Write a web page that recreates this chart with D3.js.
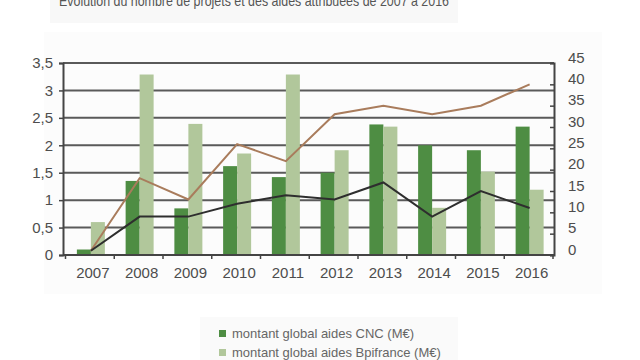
<!DOCTYPE html>
<html>
<head>
<meta charset="utf-8">
<script src="https://cdn.jsdelivr.net/npm/d3@7"></script>
<style>
  html, body { margin: 0; padding: 0; background: #fff; }
  svg { display: block; font-family: "Liberation Sans", Arial, sans-serif; }
</style>
</head>
<body>
<svg id="chart" width="640" height="360"></svg>
<script>
const title = "Evolution du nombre de projets et des aides attribuées de 2007 à 2016";
const years = ["2007","2008","2009","2010","2011","2012","2013","2014","2015","2016"];
const aidesCNC = [0.10, 1.35, 0.85, 1.62, 1.42, 1.50, 2.38, 2.00, 1.91, 2.34];
const aidesBpi = [0.60, 3.29, 2.39, 1.85, 3.29, 1.91, 2.34, 0.86, 1.52, 1.19];
const lineBrown = [1, 18, 13, 26, 22, 33, 35, 33, 35, 40];
const lineBlack = [1, 9, 9, 12, 14, 13, 17, 9, 15, 11];
const leftTicks = [0, 0.5, 1, 1.5, 2, 2.5, 3, 3.5];
const rightTicks = [0, 5, 10, 15, 20, 25, 30, 35, 40, 45];
const legendLabels = ["montant global aides CNC (M€)", "montant global aides Bpifrance (M€)"];

const colDark = "#4e8d43", colLight = "#b1c79b", colBrown = "#a97c5c", colBlack = "#2e2e2e";
const svg = d3.select("#chart");

// faint panels
svg.append("rect").attr("x", 50).attr("y", -2).attr("width", 408).attr("height", 25).attr("fill", "#f8f8f8");
svg.append("rect").attr("x", 44).attr("y", 32).attr("width", 558).attr("height", 262).attr("fill", "#fcfcfc");
svg.append("rect").attr("x", 200).attr("y", 317).attr("width", 258).attr("height", 45).attr("fill", "#fafafa");

// title (clipped at top)
svg.append("text").attr("x", 254).attr("y", 6).attr("text-anchor", "middle")
  .attr("font-size", 15).attr("fill", "#555")
  .attr("textLength", 390).attr("lengthAdjust", "spacingAndGlyphs")
  .text(title);

const x = d3.scaleBand().domain(years).range([65.5, 553]).padding(0);
const y = d3.scaleLinear().domain([0, 3.5]).range([255, 63]);
const y2 = d3.scaleLinear().domain([0, 45]).range([255, 63]);

// gridlines
svg.append("g").selectAll("line").data(leftTicks.slice(1)).join("line")
  .attr("x1", 63).attr("x2", 554).attr("y1", d => y(d)).attr("y2", d => y(d))
  .attr("stroke", "#5a5a5a").attr("stroke-width", 2);

// bars
const bw = 14;
const cx = d => x(d) + x.bandwidth() / 2 + 1;
svg.append("g").selectAll("rect").data(years).join("rect")
  .attr("x", d => cx(d) - bw).attr("width", bw)
  .attr("y", (d, i) => y(aidesCNC[i])).attr("height", (d, i) => y(0) - y(aidesCNC[i]))
  .attr("fill", colDark);
svg.append("g").selectAll("rect").data(years).join("rect")
  .attr("x", d => cx(d)).attr("width", bw)
  .attr("y", (d, i) => y(aidesBpi[i])).attr("height", (d, i) => y(0) - y(aidesBpi[i]))
  .attr("fill", colLight);

// lines
const line = d3.line().x(d => cx(d.year)).y(d => y2(d.v));
svg.append("path").datum(years.map((yr, i) => ({year: yr, v: lineBrown[i]})))
  .attr("d", line).attr("fill", "none").attr("stroke", colBrown).attr("stroke-width", 2);
svg.append("path").datum(years.map((yr, i) => ({year: yr, v: lineBlack[i]})))
  .attr("d", line).attr("fill", "none").attr("stroke", colBlack).attr("stroke-width", 2);

// left axis
const gl = svg.append("g").attr("transform", "translate(63,0)")
  .call(d3.axisLeft(y).tickValues(leftTicks).tickSize(4).tickPadding(6)
    .tickFormat(d => d3.format("")(d).replace(".", ",")));
// right axis
const gr = svg.append("g").attr("transform", "translate(554,0)")
  .call(d3.axisRight(y2).tickValues(rightTicks).tickSize(-4).tickPadding(14));
gr.selectAll("text").attr("dy", "-0.05em");
// bottom axis
const gb = svg.append("g").attr("transform", "translate(0,255)")
  .call(d3.axisBottom(x).tickSize(0).tickPadding(12));
gb.selectAll(".tick text").attr("dx", 3);
svg.append("g").selectAll("line").data(years.concat(["end"])).join("line")
  .attr("x1", (d, i) => i < years.length ? x(d) : x.range()[1])
  .attr("x2", (d, i) => i < years.length ? x(d) : x.range()[1])
  .attr("y1", 255).attr("y2", 259).attr("stroke", "#444").attr("stroke-width", 1.5);

[gl, gr, gb].forEach(g => {
  g.selectAll(".domain").attr("stroke", "#444").attr("stroke-width", 2);
  g.selectAll(".tick line").attr("stroke", "#444").attr("stroke-width", 1.5);
  g.selectAll("text").attr("font-size", 15).attr("fill", "#4d4d4d")
    .attr("font-family", "'Liberation Sans', Arial, sans-serif");
});
gb.select(".domain").attr("d", "M63,0H554");

// legend
const lg = svg.append("g").selectAll("g").data(legendLabels).join("g")
  .attr("transform", (d, i) => `translate(219,${330 + i * 19})`);
lg.append("rect").attr("width", 7).attr("height", 7)
  .attr("fill", (d, i) => i === 0 ? colDark : colLight);
lg.append("text").attr("x", 13).attr("y", 7.5).attr("font-size", 13).attr("fill", "#666")
  .text(d => d);
</script>
</body>
</html>
